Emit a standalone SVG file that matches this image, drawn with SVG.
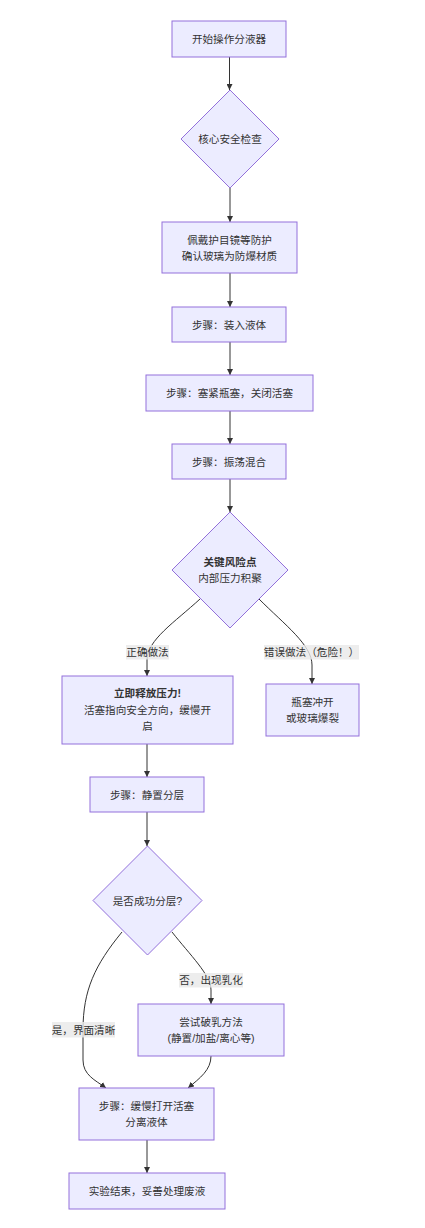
<svg xmlns="http://www.w3.org/2000/svg" width="425" height="1228" viewBox="0 0 425 1228">
<style>
.n rect, .n polygon { fill: #ECECFF; stroke: #9370DB; stroke-width: 1; }
text { font-family: "Liberation Sans", "Noto Sans CJK SC", sans-serif; font-size: 10.6px; fill: #333; text-anchor: middle; dominant-baseline: central; }
.b { font-weight: bold; }
.e path { fill: none; stroke: #333; stroke-width: 1; }
.lb { fill: rgba(232,232,232,0.8); }
</style>
<defs>
<marker id="arr" viewBox="0 0 10 10" refX="10" refY="5" markerWidth="6" markerHeight="6" markerUnits="userSpaceOnUse" orient="auto">
<path d="M0,0 L10,5 L0,10 z" fill="#333"/>
</marker>
</defs>
<rect width="425" height="1228" fill="#fff"/>
<g class="e">
<path d="M229.5,57 L229.5,90" marker-end="url(#arr)"/>
<path d="M230,188 L230,222" marker-end="url(#arr)"/>
<path d="M230,273 L230,307" marker-end="url(#arr)"/>
<path d="M230,342 L230,375" marker-end="url(#arr)"/>
<path d="M230,411 L230,444" marker-end="url(#arr)"/>
<path d="M230,479 L230,512" marker-end="url(#arr)"/>
<path d="M200,599 C175,622 147,640 147,660 L147,676" marker-end="url(#arr)"/>
<path d="M259,599 C285,625 312,645 312,665 L312,684" marker-end="url(#arr)"/>
<path d="M147,744 L147,777" marker-end="url(#arr)"/>
<path d="M147,812 L147,846" marker-end="url(#arr)"/>
<path d="M122,932 C95,965 83,990 83,1030 L83,1060 C83,1075 95,1080 106,1088" marker-end="url(#arr)"/>
<path d="M172,932 C190,955 211,975 211,990 L211,1004" marker-end="url(#arr)"/>
<path d="M211,1056 C211,1070 200,1078 188,1088" marker-end="url(#arr)"/>
<path d="M147,1140 L147,1173" marker-end="url(#arr)"/>
<rect class="lb" x="126" y="645" width="43" height="14.5"/>
<text x="147.5" y="652">正确做法</text>
<rect class="lb" x="264" y="645" width="95" height="14.5"/>
<text x="311.5" y="652">错误做法（危险！）</text>
<rect class="lb" x="179" y="973" width="64" height="14.5"/>
<text x="211" y="980">否，出现乳化</text>
<rect class="lb" x="52" y="1022" width="63" height="15.5"/>
<text x="83.5" y="1029.5">是，界面清晰</text>
</g>
<g class="n" id="start"><rect x="172" y="21" width="114" height="36"/><text x="229" y="39">开始操作分液器</text></g>
<g class="n" id="check"><polygon points="230,90 279,139 230,188 181,139"/><text x="230" y="139">核心安全检查</text></g>
<g class="n" id="protect"><rect x="162" y="222" width="135" height="51"/><text x="229.5" y="240">佩戴护目镜等防护</text><text x="229.5" y="255.5">确认玻璃为防爆材质</text></g>
<g class="n" id="load"><rect x="172" y="307" width="114" height="35"/><text x="229" y="324.5">步骤：装入液体</text></g>
<g class="n" id="seal"><rect x="146" y="375" width="167" height="36"/><text x="229.5" y="393">步骤：塞紧瓶塞，关闭活塞</text></g>
<g class="n" id="shake"><rect x="172" y="444" width="114" height="35"/><text x="229" y="461.5">步骤：振荡混合</text></g>
<g class="n" id="risk"><polygon points="230,512 288,570 230,628 172,570"/><text class="b" x="230" y="562">关键风险点</text><text x="230" y="578">内部压力积聚</text></g>
<g class="n" id="release"><rect x="62" y="676" width="171" height="68"/><text class="b" x="147.5" y="693">立即释放压力!</text><text x="147.5" y="710">活塞指向安全方向，缓慢开</text><text x="147.5" y="726">启</text></g>
<g class="n" id="burst"><rect x="266" y="684" width="93" height="52"/><text x="312.5" y="702">瓶塞冲开</text><text x="312.5" y="718">或玻璃爆裂</text></g>
<g class="n" id="settle"><rect x="90" y="777" width="114" height="35"/><text x="147" y="794.5">步骤：静置分层</text></g>
<g class="n" id="layered"><polygon points="147.5,846 202,900.5 147.5,955 93,900.5"/><text x="147.5" y="900.5">是否成功分层?</text></g>
<g class="n" id="demuls"><rect x="138" y="1004" width="146" height="52"/><text x="211" y="1022">尝试破乳方法</text><text x="211" y="1037.5">(静置/加盐/离心等)</text></g>
<g class="n" id="separate"><rect x="79" y="1088" width="135" height="52"/><text x="146.5" y="1106">步骤：缓慢打开活塞</text><text x="146.5" y="1122">分离液体</text></g>
<g class="n" id="end"><rect x="69" y="1173" width="156" height="36"/><text x="147" y="1191">实验结束，妥善处理废液</text></g>
</svg>
